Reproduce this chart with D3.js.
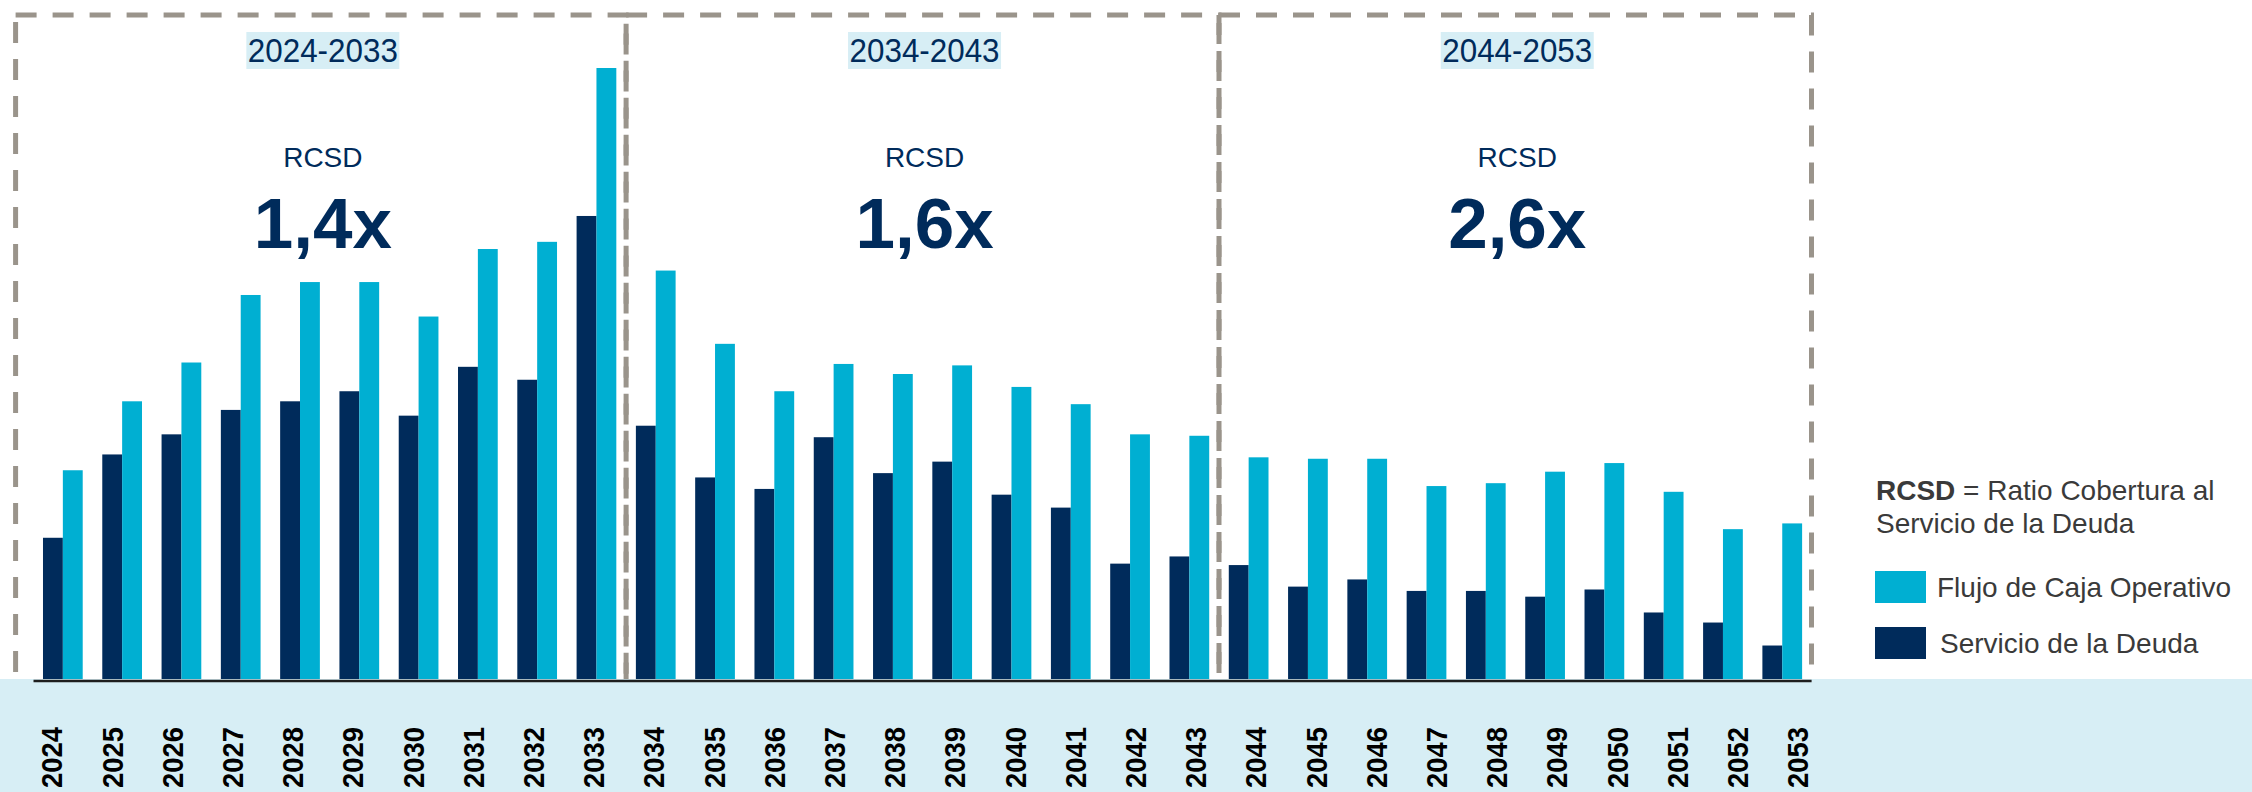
<!DOCTYPE html>
<html>
<head>
<meta charset="utf-8">
<script src="https://cdn.jsdelivr.net/npm/d3@7"></script>
<style>
  html, body { margin: 0; padding: 0; background: #fff; }
  svg { display: block; font-family: "Liberation Sans", Arial, sans-serif; }
</style>
</head>
<body>
<svg id="svg" width="2252" height="792"></svg>
<script>
// categories
const years = ['2024', '2025', '2026', '2027', '2028', '2029', '2030', '2031', '2032', '2033',
  '2034', '2035', '2036', '2037', '2038', '2039', '2040', '2041', '2042', '2043',
  '2044', '2045', '2046', '2047', '2048', '2049', '2050', '2051', '2052', '2053']

// Flujo de Caja Operativo (arbitrary units)
const flujo = [146, 194, 221, 268, 277, 277, 253, 300, 305, 426,
  285, 234, 201, 220, 213, 219, 204, 192, 171, 170,
  155, 154, 154, 135, 137, 145, 151, 131, 105, 109]

// Servicio de la Deuda
const servicio = [99, 157, 171, 188, 194, 201, 184, 218, 209, 323,
  177, 141, 133, 169, 144, 152, 129, 120, 81, 86,
  80, 65, 70, 62, 62, 58, 63, 47, 40, 24]

const periods = ['2024-2033', '2034-2043', '2044-2053']
const periodStart = ['2024', '2034', '2044']
const periodEnd = ['2033', '2043', '2053']
const ratios = ['1,4x', '1,6x', '2,6x']

const navy = '#002b5b'
const cyan = '#00afd2'
const grey = '#9a948b'
const baseY = 680

const svg = d3.select('#svg')

const x = d3.scaleBand()
  .domain(years)
  .range([33.5, 1811.6])
  .paddingInner(0.33)
  .paddingOuter(0.16)

const xSub = d3.scaleBand()
  .domain(['servicio', 'flujo'])
  .range([0, x.bandwidth()])

const y = d3.scaleLinear()
  .domain([0, d3.max(flujo)])
  .range([baseY, 68])

// dashed period boxes
const gap = (x.step() - x.bandwidth()) / 2
const boxLeft = (i) => i === 0 ? 15.6 : x(periodStart[i]) - gap
const boxRight = (i) => i === 2 ? 1811.5 : x(periodEnd[i]) + x.bandwidth() + gap

svg.append('g')
  .selectAll('rect')
  .data(periods)
  .join('rect')
  .attr('x', (d, i) => boxLeft(i))
  .attr('y', 15)
  .attr('width', (d, i) => boxRight(i) - boxLeft(i))
  .attr('height', 680)
  .attr('fill', 'none')
  .attr('stroke', grey)
  .attr('stroke-width', 5)
  .attr('stroke-dasharray', '21,16')

// bars
const groups = svg.append('g')
  .selectAll('g')
  .data(years)
  .join('g')
  .attr('transform', d => `translate(${x(d)},0)`)

groups.append('rect')
  .attr('x', xSub('servicio'))
  .attr('y', (d, i) => y(servicio[i]))
  .attr('width', xSub.bandwidth())
  .attr('height', (d, i) => baseY - y(servicio[i]))
  .attr('fill', navy)

groups.append('rect')
  .attr('x', xSub('flujo'))
  .attr('y', (d, i) => y(flujo[i]))
  .attr('width', xSub.bandwidth())
  .attr('height', (d, i) => baseY - y(flujo[i]))
  .attr('fill', cyan)

// light blue band under the axis
svg.append('rect')
  .attr('x', 0)
  .attr('y', 679)
  .attr('width', 2252)
  .attr('height', 113)
  .attr('fill', '#d7eef5')

svg.append('line')
  .attr('x1', x.range()[0])
  .attr('x2', x.range()[1])
  .attr('y1', 681)
  .attr('y2', 681)
  .attr('stroke', '#1e1e1e')
  .attr('stroke-width', 2.5)

// year labels (they sit on a slightly wider spacing than the bars)
const xLabel = d3.scalePoint()
  .domain(years)
  .range([51, 1797])

const axis = svg.append('g')
  .attr('transform', `translate(0,${baseY})`)
  .call(d3.axisBottom(xLabel).tickSize(0).tickPadding(0))

axis.select('.domain').remove()
axis.selectAll('text')
  .attr('y', 0)
  .attr('dy', '0.36em')
  .attr('transform', 'translate(0,47) rotate(-90)')
  .attr('text-anchor', 'end')
  .attr('font-family', '"Liberation Sans", Arial, sans-serif')
  .attr('font-size', 30)
  .attr('font-weight', 'bold')
  .attr('textLength', 61)
  .attr('lengthAdjust', 'spacingAndGlyphs')
  .attr('fill', '#000')

// period annotations
const notes = svg.append('g')
  .selectAll('g')
  .data(periods)
  .join('g')
  .attr('transform', (d, i) => `translate(${(boxLeft(i) + boxRight(i)) / 2 + 2},0)`)

notes.append('rect')
  .attr('x', -76.5)
  .attr('y', 32)
  .attr('width', 153)
  .attr('height', 37)
  .attr('fill', '#d7eef5')

notes.append('text')
  .attr('y', 62)
  .attr('text-anchor', 'middle')
  .attr('font-size', 33)
  .attr('textLength', 150)
  .attr('lengthAdjust', 'spacingAndGlyphs')
  .attr('fill', navy)
  .text(d => d)

notes.append('text')
  .attr('y', 167)
  .attr('text-anchor', 'middle')
  .attr('font-size', 28)
  .attr('fill', navy)
  .text('RCSD')

notes.append('text')
  .attr('y', 248)
  .attr('text-anchor', 'middle')
  .attr('font-size', 71)
  .attr('font-weight', 'bold')
  .attr('fill', navy)
  .text((d, i) => ratios[i])

// legend
const legend = svg.append('g')
  .attr('fill', '#3a3a3a')
  .attr('font-size', 28)

const def = legend.append('text')
  .attr('x', 1876)
  .attr('y', 500)
def.append('tspan').attr('font-weight', 'bold').text('RCSD')
def.append('tspan').text(' = Ratio Cobertura al')

legend.append('text')
  .attr('x', 1876)
  .attr('y', 533)
  .text('Servicio de la Deuda')

const legendItems = [
  { label: 'Flujo de Caja Operativo', color: cyan, y: 571, tx: 1937 },
  { label: 'Servicio de la Deuda', color: navy, y: 627, tx: 1940 }
]

legend.selectAll('rect')
  .data(legendItems)
  .join('rect')
  .attr('x', 1875)
  .attr('y', d => d.y)
  .attr('width', 51)
  .attr('height', 32)
  .attr('fill', d => d.color)

legend.selectAll('text.item')
  .data(legendItems)
  .join('text')
  .attr('class', 'item')
  .attr('x', d => d.tx)
  .attr('y', d => d.y + 26)
  .text(d => d.label)
</script>
</body>
</html>
